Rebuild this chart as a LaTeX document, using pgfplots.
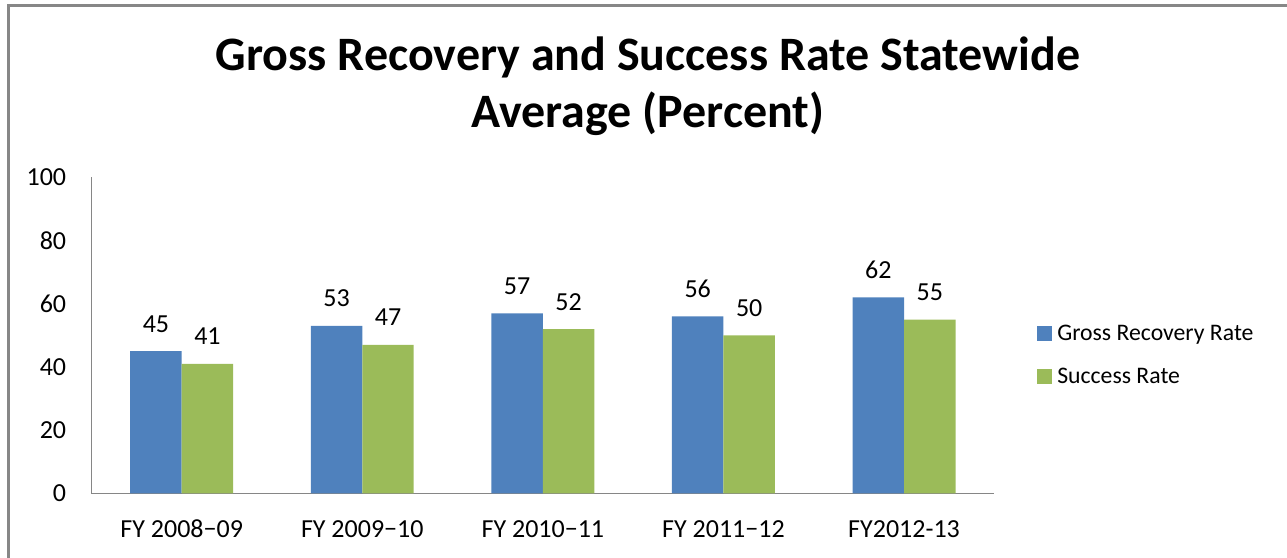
\documentclass[border=0pt]{standalone}
\usepackage{fontspec}
\setmainfont{Carlito}
\usepackage{pgfplots}
\pgfplotsset{compat=1.18}
\definecolor{cblue}{HTML}{4F81BD}
\definecolor{cgreen}{HTML}{9BBB59}
\definecolor{axgray}{HTML}{868686}
\definecolor{bordergray}{HTML}{878787}
\pgfplotsset{ybar legend/.style={legend image code/.code={\path[##1,draw=none] (0pt,-5.6pt) rectangle (11.25pt,5.6pt);}}}
\begin{document}
\begin{tikzpicture}
\useasboundingbox (0,0) rectangle (965.25pt,417.75pt);
\draw[bordergray, line width=2pt] (6.5pt,-3pt) -- (6.5pt,413.6pt) -- (970pt,413.6pt);
\node[anchor=base, inner sep=0pt, font=\fontsize{36}{40}\selectfont\bfseries] at (486pt,364.5pt) {Gross Recovery and Success Rate Statewide};
\node[anchor=base, inner sep=0pt, font=\fontsize{36}{40}\selectfont\bfseries] at (486pt,321.75pt) {Average (Percent)};
\begin{axis}[
  at={(68.55pt,47.78pt)}, anchor=south west,
  scale only axis, width=677.2pt, height=236.85pt,
  xmin=-0.5, xmax=4.5, ymin=0, ymax=100,
  axis lines*=left,
  axis line style={axgray, line width=0.75pt},
  ytick={0,20,40,60,80,100},
  xtick={0,1,2,3,4},
  xticklabels={FY 2008−09, FY 2009−10, FY 2010−11, FY 2011−12, FY2012-13},
  major tick length=0pt,
  /pgf/number format/assume math mode=true,
  tick label style={font=\fontsize{19.5}{21}\selectfont, black},
  yticklabel style={anchor=east, inner sep=0pt, xshift=-18.75pt},
  xticklabel style={anchor=base, inner sep=0pt, yshift=-32.8pt},
  ybar=0pt, bar width=0.285,
  nodes near coords,
  every node near coord/.append style={anchor=base, inner sep=0pt, yshift=14.25pt, font=\fontsize{19.5}{21}\selectfont, black},
  legend style={at={(1.0473,0.437)}, anchor=west, draw=none, fill=none, inner sep=0pt,
    nodes={inner sep=0pt}, row sep=19pt, column sep=3.75pt, font=\fontsize{17.8}{19}\selectfont},
  legend cell align=left,
]
\addplot[fill=cblue, draw=none] coordinates {(0,45) (1,53) (2,57) (3,56) (4,62)};
\addplot[fill=cgreen, draw=none] coordinates {(0,41) (1,47) (2,52) (3,50) (4,55)};
\legend{Gross Recovery Rate, Success Rate}
\end{axis}
\end{tikzpicture}
\end{document}
